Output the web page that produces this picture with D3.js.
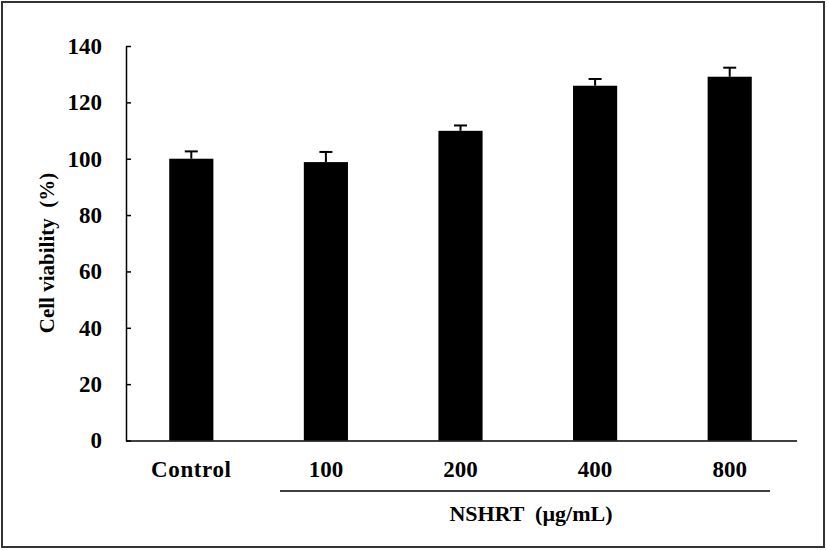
<!DOCTYPE html>
<html><head><meta charset="utf-8">
<script src="https://cdn.jsdelivr.net/npm/d3@7"></script>
<style>body{margin:0;background:#fff}svg{display:block}text{font-family:"Liberation Serif","Times New Roman",serif;font-weight:bold;fill:#000;white-space:pre}</style>
</head><body>
<script>
const categories = ["Control","100","200","400","800"];
const values = [100, 98.8, 109.9, 125.9, 129.1];
const errors = [2.6, 3.6, 1.9, 2.4, 3.2];
const yTicks = [0,20,40,60,80,100,120,140];

const W=827,H=550;
const svg=d3.select("body").append("svg").attr("width",W).attr("height",H);
svg.append("rect").attr("x",2).attr("y",2).attr("width",W-5).attr("height",H-5)
  .attr("fill","none").attr("stroke","#333").attr("stroke-width",2);

const x=d3.scaleBand().domain(categories).range([124,797]).paddingInner(0.672).paddingOuter(0.336);
const y=d3.scaleLinear().domain([0,140]).range([440.5,46]);

// bars
svg.selectAll("rect.bar").data(categories).enter().append("rect")
  .attr("class","bar").attr("x",d=>x(d)).attr("width",x.bandwidth())
  .attr("y",(d,i)=>y(values[i])).attr("height",(d,i)=>y(0)-y(values[i])).attr("fill","#000");

// error bars
const eg=svg.append("g").attr("stroke","#000").attr("stroke-width",2);
categories.forEach((c,i)=>{
  const cx=x(c)+x.bandwidth()/2;
  eg.append("line").attr("x1",cx).attr("x2",cx).attr("y1",y(values[i])).attr("y2",y(values[i]+errors[i]));
  eg.append("line").attr("x1",cx-6.5).attr("x2",cx+6.5).attr("y1",y(values[i]+errors[i])).attr("y2",y(values[i]+errors[i]));
});

// y axis
const ya=svg.append("g").attr("transform","translate(126,0)")
  .call(d3.axisLeft(y).tickValues(yTicks).tickSize(-5).tickSizeOuter(0).tickPadding(24));
ya.select(".domain").attr("stroke","#000").attr("stroke-width",1.5);
ya.selectAll(".tick line").attr("stroke","#000").attr("stroke-width",1.5);
ya.selectAll(".tick text").style("font-size","23px").style("font-family","Liberation Serif").style("font-weight","bold");

// x axis
const xa=svg.append("g").attr("transform","translate(0,441)")
  .call(d3.axisBottom(x).tickSize(0).tickSizeOuter(0).tickPadding(20));
xa.select(".domain").attr("d","M126,0H797").attr("stroke","#000").attr("stroke-width",1.5);
xa.selectAll(".tick text").style("font-size","23px").style("font-family","Liberation Serif").style("font-weight","bold")
  .style("letter-spacing",d=>d==="Control"?"0.6px":"0px");

// group underline
svg.append("line").attr("x1",280).attr("x2",770).attr("y1",491).attr("y2",491).attr("stroke","#000").attr("stroke-width",1.5);
svg.append("text").attr("x",531).attr("y",521).attr("text-anchor","middle").style("font-size","22px")
  .text("NSHRT  (µg/mL)");

// y title
svg.append("text").attr("transform","translate(54,253) rotate(-90)").attr("text-anchor","middle")
  .style("font-size","21px").text("Cell viability  (%)");
</script>
</body></html>
